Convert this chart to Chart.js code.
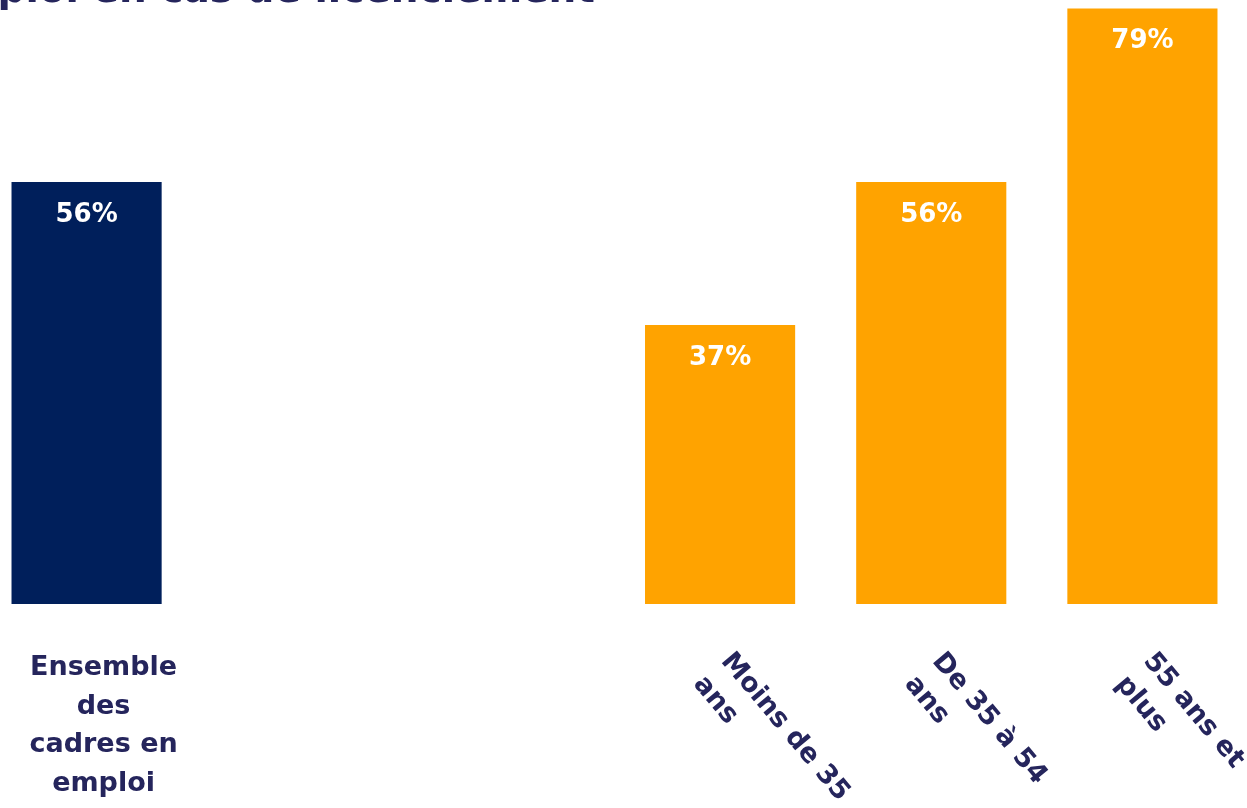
<!DOCTYPE html>
<html>
<head>
<meta charset="utf-8">
<script src="https://cdn.jsdelivr.net/npm/chart.js@4"></script>
<style>
  html, body { margin: 0; padding: 0; background: #ffffff; overflow: hidden; }
  #wrap { position: absolute; left: -19px; top: 0; width: 1267px; height: 808px; }
</style>
</head>
<body>
<div id="wrap"><canvas id="ageChart"></canvas></div>
<script>
// categories (two empty slots between the total and the age groups)
const categories = [
    ['Ensemble', 'des', 'cadres en', 'emploi'],
    '',
    '',
    ['Moins de 35', 'ans'],
    ['De 35 à 54', 'ans'],
    ['55 ans et', 'plus']
];
const values = [56, null, null, 37, 56, 79];
const barColors = ['#001f5b', null, null, '#ffa300', '#ffa300', '#ffa300'];
const rotatedLabel = [false, false, false, true, true, true];
const titleText = 'Capacité à retrouver un emploi en cas de licenciement';

const textColor = '#25255c';
const fontFamily = '"DejaVu Sans", sans-serif';

const ctx = document.getElementById('ageChart').getContext('2d');

const config = {
    type: 'bar',
    data: {
        labels: categories,
        datasets: [{
            data: values,
            backgroundColor: barColors,
            borderWidth: 0,
            barPercentage: 0.711,
            categoryPercentage: 1
        }]
    },
    options: {
        responsive: true,
        maintainAspectRatio: false,
        animation: false,
        layout: { padding: { top: 1, bottom: 204, left: 0, right: 0 } },
        plugins: {
            legend: { display: false },
            tooltip: { enabled: false }
        },
        scales: {
            x: { display: false },
            y: { display: false, min: 0, max: 80 }
        }
    },
    plugins: [
        {
            // value labels inside bars, top
            afterDatasetsDraw: chart => {
                const c = chart.ctx;
                const meta = chart.getDatasetMeta(0);
                c.save();
                c.fillStyle = '#ffffff';
                c.font = 'bold 26px ' + fontFamily;
                c.textAlign = 'center';
                c.textBaseline = 'middle';
                meta.data.forEach((bar, i) => {
                    if (values[i] == null) return;
                    c.fillText(values[i] + '%', bar.x, bar.y + 33);
                });
                c.restore();
            }
        },
        {
            // category labels + title (title is cut by the top edge)
            afterDraw: chart => {
                const c = chart.ctx;
                const xScale = chart.scales.x;
                const area = chart.chartArea;
                c.save();
                c.fillStyle = textColor;
                c.font = 'bold 27px ' + fontFamily;
                categories.forEach((lab, i) => {
                    if (!lab) return;
                    const lines = Array.isArray(lab) ? lab : [lab];
                    const x = xScale.getPixelForValue(i);
                    if (rotatedLabel[i]) {
                        c.save();
                        c.translate(x + 16, area.bottom + 44);
                        c.rotate(50 * Math.PI / 180);
                        c.textAlign = 'left';
                        c.textBaseline = 'top';
                        lines.forEach((ln, k) => c.fillText(ln, 0, k * 36));
                        c.restore();
                    } else {
                        c.textAlign = 'center';
                        c.textBaseline = 'middle';
                        lines.forEach((ln, k) => c.fillText(ln, x + 17, area.bottom + 64 + k * 38.5));
                    }
                });

                c.font = 'bold 39px ' + fontFamily;
                c.textAlign = 'right';
                c.textBaseline = 'alphabetic';
                c.fillText(titleText, 19 + 595, 2);
                c.restore();
            }
        }
    ]
};

ctx.__ageChart = new Chart(ctx, config);
</script>
</body>
</html>
